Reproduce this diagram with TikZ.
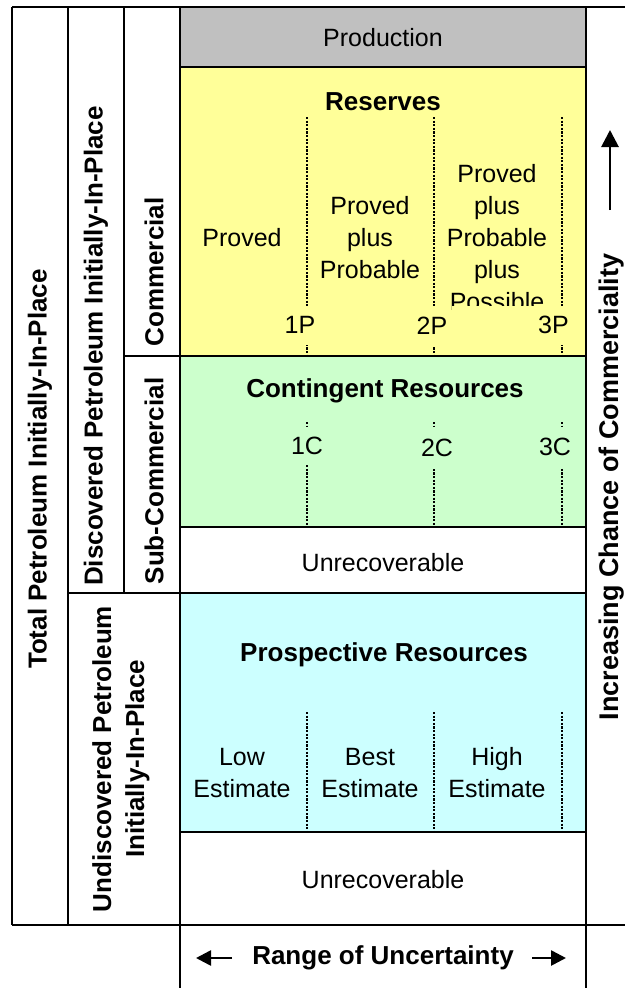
\documentclass[tikz,border=0pt]{standalone}
\usepackage{fontspec}
\setmainfont{Liberation Sans}
\usetikzlibrary{arrows.meta}
\definecolor{prodG}{HTML}{C0C0C0}
\definecolor{resY}{HTML}{FFFF99}
\definecolor{conG}{HTML}{CCFFCC}
\definecolor{proC}{HTML}{CCFFFF}
\begin{document}
\begin{tikzpicture}[x=1pt,y=-1pt,
  frame/.style={line width=2.6pt},
  txt/.style={font=\fontsize{25}{32}\selectfont, align=center, inner sep=0pt},
  btxt/.style={font=\fontsize{26}{33}\selectfont\bfseries, align=center, inner sep=0pt},
  dline/.style={line width=1.7pt, dash pattern=on 2.2pt off 1.4pt},
  lab/.style={font=\fontsize{25}{32}\selectfont, inner sep=0pt, minimum height=39pt},
  arr/.style={line width=2.6pt, -{Triangle[width=15pt,length=15pt]}},
  bigarr/.style={line width=2.8pt, -{Triangle[width=17pt,length=17pt]}}]
\useasboundingbox (0,0) rectangle (625,988);
% fills
\fill[prodG] (180,7) rectangle (586,67);
\fill[resY] (180,67) rectangle (586,356);
\fill[conG] (180,356) rectangle (586,527);
\fill[proC] (180,593) rectangle (586,832);
% dashed boundaries
\foreach \x in {307,434,562} {
  \draw[dline] (\x,117) -- (\x,356);
  \draw[dline] (\x,422) -- (\x,527);
  \draw[dline] (\x,712) -- (\x,832);
}
% main texts
\node[txt] (prod) at (383,38) {Production};
\node[btxt] (res) at (383,102) {Reserves};
\node[txt] (p1) at (242,238) {Proved};
\node[txt] (p2) at (370,238) {Proved\\plus\\Probable};
\node[txt] (p3) at (497,238) {Proved\\plus\\Probable\\plus\\Possible};
\node[lab, fill=resY, minimum width=34pt] (l1p) at (300,325) {1P};
\node[lab, fill=resY, minimum width=34pt] (l2p) at (432,326) {2P};
\node[lab, fill=resY, anchor=east, text width=117pt, align=right] (l3p) at (569,325) {3P};
\node[btxt] (cont) at (385,391) {Contingent Resources};
\node[lab, fill=conG, minimum width=34pt, minimum height=38pt] (l1c) at (307,446) {1C};
\node[lab, fill=conG, minimum width=34pt, minimum height=42pt] (l2c) at (437,448) {2C};
\node[lab, fill=conG, minimum width=34pt, minimum height=40pt] (l3c) at (555,447) {3C};
\node[txt] (unr1) at (383,563) {Unrecoverable};
\node[btxt] (pros) at (384,655) {Prospective Resources};
\node[txt] (low) at (242,773) {Low\\Estimate};
\node[txt] (best) at (370,773) {Best\\Estimate};
\node[txt] (high) at (497,773) {High\\Estimate};
\node[txt] (unr2) at (383,880) {Unrecoverable};
% frame lines
\draw[frame] (12,7) -- (625,7);
\draw[frame] (12,925) -- (625,925);
\draw[frame] (12,7) -- (12,925);
\draw[frame] (68,7) -- (68,925);
\draw[frame] (124,7) -- (124,593);
\draw[frame] (180,7) -- (180,988);
\draw[frame] (586,7) -- (586,988);
\draw[frame] (180,67) -- (586,67);
\draw[frame] (124,356) -- (586,356);
\draw[frame] (180,527) -- (586,527);
\draw[frame] (68,593) -- (586,593);
\draw[frame] (180,832) -- (586,832);
% side texts
\node[btxt, rotate=90] (tot) at (40,469) {Total Petroleum Initially-In-Place};
\node[btxt, rotate=90] (disc) at (96,346) {Discovered Petroleum Initially-In-Place};
\node[btxt, rotate=90] (comm) at (154,272) {Commercial};
\node[btxt, rotate=90] (sub) at (154,481) {Sub-Commercial};
\node[btxt, rotate=90] (undisc) at (121,759) {Undiscovered Petroleum\\Initially-In-Place};
\node[btxt, rotate=90, font=\fontsize{27}{33}\selectfont\bfseries] (inc) at (612,487) {Increasing Chance of Commerciality};
% arrows
\coordinate (ua) at (610,210);
\coordinate (ub) at (610,130);
\draw[bigarr] (ua) -- (ub);
\node[btxt] (range) at (383,958) {Range of Uncertainty};
\coordinate (la) at (232,958);
\coordinate (lb) at (196,958);
\coordinate (ra) at (532,958);
\coordinate (rb) at (566,958);
\draw[arr] (la) -- (lb);
\draw[arr] (ra) -- (rb);
\end{tikzpicture}
\end{document}
